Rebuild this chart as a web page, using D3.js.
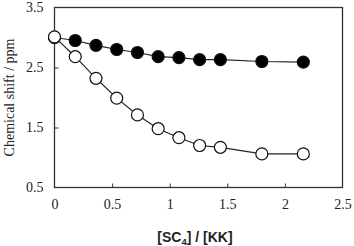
<!DOCTYPE html>
<html>
<head>
<meta charset="utf-8">
<script src="https://cdn.jsdelivr.net/npm/d3@7"></script>
<style>
  body { margin: 0; background: #fff; }
  .tick-label { font-family: "Liberation Serif", "Times New Roman", serif; font-size: 14px; fill: #222; }
</style>
</head>
<body>
<div id="chart"></div>
<script>
// ratio [SC4]/[KK]
const ratios = [0, 0.18, 0.36, 0.54, 0.72, 0.9, 1.08, 1.26, 1.44, 1.8, 2.16];
// chemical shift (ppm), filled markers
const filledShift = [3.0, 2.95, 2.87, 2.80, 2.75, 2.68, 2.665, 2.63, 2.63, 2.60, 2.59];
// chemical shift (ppm), open markers
const openShift = [3.01, 2.68, 2.32, 1.99, 1.71, 1.48, 1.33, 1.20, 1.17, 1.06, 1.06];
const xTicks = [0, 0.5, 1, 1.5, 2, 2.5];
const yTicks = [0.5, 1.5, 2.5, 3.5];

const W = 354, H = 246;
const margin = {top: 7.5, right: 11.5, bottom: 58.5, left: 54.5};
const width = W - margin.left - margin.right;
const height = H - margin.top - margin.bottom;

const svg = d3.select('#chart').append('svg')
  .attr('width', W)
  .attr('height', H);

const g = svg.append('g')
  .attr('transform', `translate(${margin.left}, ${margin.top})`);

const x = d3.scaleLinear().domain([0, 2.5]).range([0, width]);
const y = d3.scaleLinear().domain([0.5, 3.5]).range([height, 0]);

// frame
g.append('rect')
  .attr('width', width)
  .attr('height', height)
  .attr('fill', 'none')
  .attr('stroke', '#333')
  .attr('stroke-width', 1.3);

// axes (ticks pointing inward)
const xAxis = g.append('g')
  .attr('transform', `translate(0, ${height})`)
  .call(d3.axisBottom(x).tickValues(xTicks).tickSize(-4).tickPadding(12).tickFormat(d3.format('')));
const yAxis = g.append('g')
  .call(d3.axisLeft(y).tickValues(yTicks).tickSize(-4).tickPadding(11).tickFormat(d3.format('.1f')));

[xAxis, yAxis].forEach(a => {
  a.select('.domain').remove();
  a.selectAll('.tick line').attr('stroke', '#333').attr('stroke-width', 1);
  a.selectAll('.tick text').attr('class', 'tick-label');
});
xAxis.selectAll('.tick').filter(d => d === 0 || d === 2.5).select('line').remove();
yAxis.selectAll('.tick').filter(d => d === 0.5 || d === 3.5).select('line').remove();

const line = d3.line().x(d => x(d[0])).y(d => y(d[1]));

function drawSeries(vals, fill) {
  const pts = ratios.map((r, i) => [r, vals[i]]);
  g.append('path')
    .datum(pts)
    .attr('d', line)
    .attr('fill', 'none')
    .attr('stroke', '#222')
    .attr('stroke-width', 1.2);
  g.append('g').selectAll('circle')
    .data(pts)
    .enter()
    .append('circle')
    .attr('cx', d => x(d[0]))
    .attr('cy', d => y(d[1]))
    .attr('r', 6)
    .attr('fill', fill)
    .attr('stroke', '#111')
    .attr('stroke-width', 1.2);
}
drawSeries(filledShift, '#000');
drawSeries(openShift, '#fff');

// axis titles
svg.append('text')
  .attr('transform', `translate(14, ${margin.top + height / 2}) rotate(-90)`)
  .attr('text-anchor', 'middle')
  .style('font-family', '"Liberation Serif", "Times New Roman", serif')
  .style('font-size', '14px')
  .style('fill', '#222')
  .text('Chemical shift / ppm');

const xt = svg.append('text')
  .attr('x', 195)
  .attr('y', 242)
  .attr('text-anchor', 'middle')
  .style('font-family', '"Liberation Sans", Arial, sans-serif')
  .style('font-size', '14px')
  .style('font-weight', 'bold')
  .style('fill', '#222');
xt.append('tspan').text('[SC');
xt.append('tspan').attr('dy', 3).style('font-size', '9.5px').text('4');
xt.append('tspan').attr('dy', -3).text('] / [KK]');
</script>
</body>
</html>
